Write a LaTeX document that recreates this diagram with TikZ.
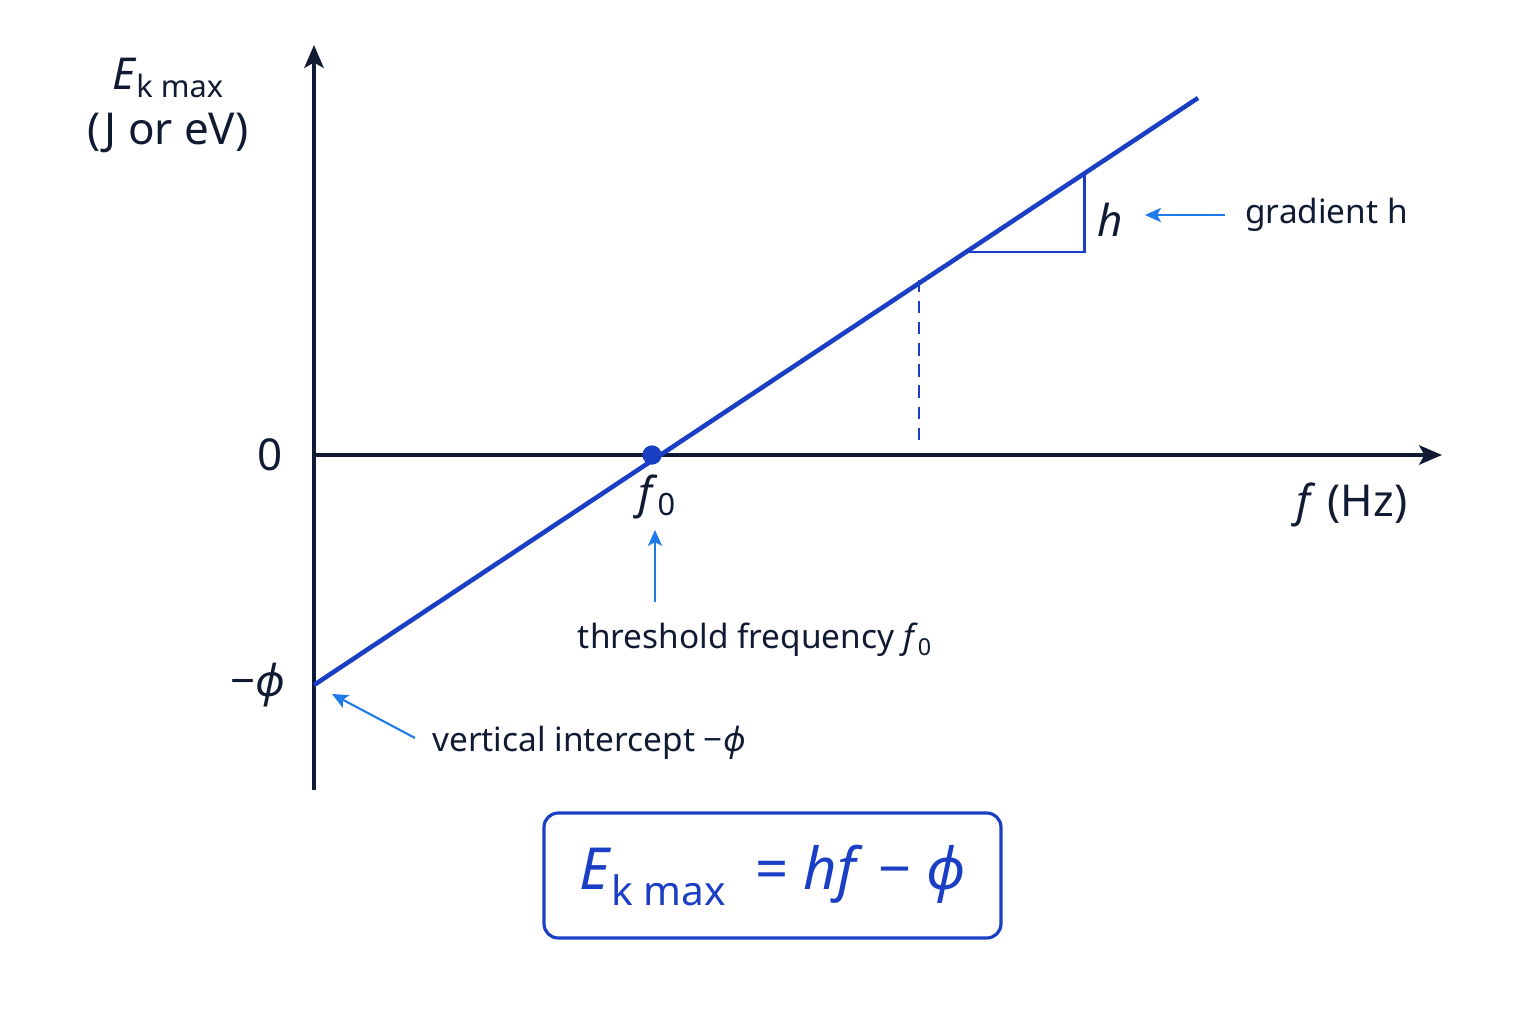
\documentclass[tikz,border=0pt]{standalone}
\usepackage{fontspec}
\setmainfont{Noto Sans}
\usetikzlibrary{arrows.meta, positioning}
\definecolor{navy}{HTML}{111A33}
\definecolor{lineblue}{HTML}{1A3FC4}
\definecolor{callout}{HTML}{1E7BE8}
\newcommand{\mphi}{\textit{ϕ}}
\tikzset{
    axis/.style = {draw=navy, line width=2pt, -{Stealth[length=13pt, width=11pt, inset=3pt]}},
    callout arrow/.style = {draw=callout, line width=1.2pt, -{Stealth[length=9pt, width=8pt, inset=2pt]}},
    label/.style = {text=navy, font=\fontsize{19}{22}\selectfont, inner sep=0pt},
    big label/.style = {text=navy, font=\fontsize{25}{28}\selectfont, inner sep=0pt},
}
\begin{document}
\begin{tikzpicture}[x=0.02cm, y=-0.02cm]
    \useasboundingbox (0,0) rectangle (1536,1024);
    % axes
    \coordinate (O) at (314,455);
    \coordinate (ybot) at (314,790);
    \coordinate (ytop) at (314,45);
    \coordinate (xend) at (1442,455);
    \draw[axis] (ybot) -- (ytop);
    \draw[axis] (O) -- (xend);

    % graph line
    \coordinate (L0) at (314,685);
    \coordinate (L1) at (1198,98);
    \draw[lineblue, line width=2.6pt] (L0) -- (L1);
    \node[circle, fill=lineblue, inner sep=0pt, minimum size=11pt] (f0pt) at (652,455) {};
    \coordinate (D0) at (919,280);
    \coordinate (D1) at (919,447);
    \draw[lineblue, line width=1.4pt, dash pattern=on 7pt off 5pt] (D0) -- (D1);
    \coordinate (T0) at (963,252);
    \coordinate (T1) at (1084,252);
    \coordinate (T2) at (1084,175);
    \draw[lineblue, line width=1.7pt] (T0) -- (T1) -- (T2);

    % axis labels
    \node[big label] (ylab1) at (168,78) {\textit{E}\textsubscript{k max}};
    \node[big label] (ylab2) at (168,133) {(J or eV)};
    \node[big label] (zero) at (270,455) {0};
    \node[big label] (phi) at (258,685) {−\mphi};
    \node[big label] (xlab) at (1352,505) {\textit{f} (Hz)};
    \node[big label] (f0) at (657,497) {\textit{f}\textsubscript{0}};
    \node[big label] (h) at (1110,220) {\textit{h}};

    % callouts
    \node[label, anchor=west] (grad) at (1245,215) {gradient h};
    \draw[callout arrow] (1225,215) -- (1145,215);
    \node[label] (thr) at (755,640) {threshold frequency \textit{f}\textsubscript{0}};
    \draw[callout arrow] (655,602) -- (655,530);
    \node[label, anchor=west] (vint) at (432,743) {vertical intercept −\mphi};
    \draw[callout arrow] (415,738) -- (332,694);

    % equation box
    \node[draw=lineblue, line width=1.8pt, rounded corners=8pt, minimum width=9.14cm,
          minimum height=2.5cm, text=lineblue, font=\fontsize{33}{36}\selectfont] (eq) at (772.5,875.5)
          {\textit{E}\textsubscript{k max}\enspace = \textit{hf} − \mphi};
\end{tikzpicture}
\end{document}
